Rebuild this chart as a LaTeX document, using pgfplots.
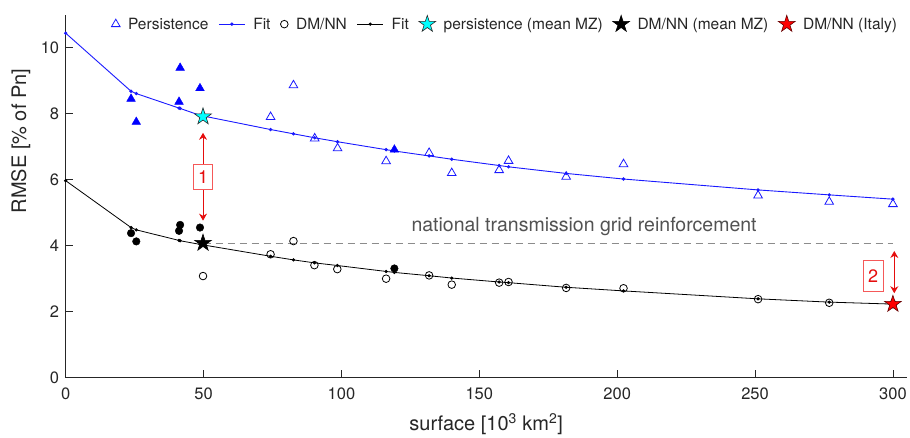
\documentclass[border=0pt]{standalone}
\usepackage{fontspec}
\setmainfont{TeX Gyre Heros}
\usepackage{pgfplots}
\pgfplotsset{compat=1.18}
\usetikzlibrary{arrows.meta}

\definecolor{axisgray}{rgb}{0.15,0.15,0.15}
\definecolor{notegray}{rgb}{0.32,0.32,0.32}
\definecolor{dashgray}{rgb}{0.55,0.55,0.55}
\definecolor{annred}{rgb}{0.90,0.05,0.05}
\definecolor{boxred}{rgb}{0.96,0.35,0.35}
\definecolor{starred}{rgb}{1,0,0}
\definecolor{starcyan}{rgb}{0,1,1}
\definecolor{fitblue}{rgb}{0.1,0.1,1}

\pgfplotsset{fitlegend/.style={legend image code/.code={%
  \draw[mark repeat=2,mark phase=2,##1] plot coordinates {(0pt,0pt) (13pt,0pt) (26pt,0pt)};}}}

% filled five-pointed star
\pgfdeclareplotmark{pstar}{%
  \pgfpathmoveto{\pgfpointpolar{90}{\pgfplotmarksize}}%
  \pgfpathlineto{\pgfpointpolar{126}{0.382\pgfplotmarksize}}%
  \pgfpathlineto{\pgfpointpolar{162}{\pgfplotmarksize}}%
  \pgfpathlineto{\pgfpointpolar{198}{0.382\pgfplotmarksize}}%
  \pgfpathlineto{\pgfpointpolar{234}{\pgfplotmarksize}}%
  \pgfpathlineto{\pgfpointpolar{270}{0.382\pgfplotmarksize}}%
  \pgfpathlineto{\pgfpointpolar{306}{\pgfplotmarksize}}%
  \pgfpathlineto{\pgfpointpolar{342}{0.382\pgfplotmarksize}}%
  \pgfpathlineto{\pgfpointpolar{18}{\pgfplotmarksize}}%
  \pgfpathlineto{\pgfpointpolar{54}{0.382\pgfplotmarksize}}%
  \pgfpathclose
  \pgfusepathqfillstroke
}

\begin{document}
\begin{tikzpicture}
\begin{axis}[
  at={(0,0)}, anchor=south west,
  scale only axis,
  width=841pt, height=363pt,
  xmin=0, xmax=305, ymin=0, ymax=11,
  axis x line=bottom, axis y line=left,
  axis line style={-, draw=axisgray, line width=0.8pt},
  xtick={0,50,...,300}, ytick={0,2,...,10},
  tick align=inside, major tick length=7.5pt,
  tick style={draw=axisgray, line width=0.8pt},
  ticklabel style={font=\fontsize{16.5}{18}\selectfont, text=axisgray},
  xticklabel style={yshift=-7pt},
  yticklabel style={xshift=-3pt},
  /pgf/number format/assume math mode=true,
  xlabel={surface [10\textsuperscript{3} km\textsuperscript{2}]},
  ylabel={RMSE [\% of Pn]},
  every axis x label/.style={at={(axis description cs:0.5,-0.1468)}, anchor=base,
    font=\fontsize{20}{22}\selectfont, text=axisgray},
  every axis y label/.style={at={(axis description cs:-0.0472,0.652)}, rotate=90, anchor=base,
    font=\fontsize{20}{22}\selectfont, text=axisgray},
  legend columns=7,
  legend style={draw=none, fill=none, at={(axis description cs:0.0506,0.9745)}, anchor=west,
    font=\fontsize{15.5}{17}\selectfont, text=axisgray,
    /tikz/every odd column/.append style={column sep=6pt},
    /tikz/every even column/.append style={column sep=8pt}},
]
% Persistence, open markers
\addplot[only marks, mark=triangle, mark size=5pt, draw=fitblue, line width=0.8pt]
  coordinates {(74.3,7.90) (82.6,8.86) (90.3,7.25) (98.6,6.95) (116.2,6.56) (131.8,6.81)
  (140.0,6.20) (157.2,6.29) (160.6,6.57) (181.5,6.09) (202.3,6.47) (251.1,5.52)
  (276.9,5.33) (300,5.26)};
\addlegendentry{Persistence}
\addplot[fitblue, line width=0.9pt, mark=*, mark size=1.2pt, fitlegend]
  coordinates {(0,10.44) (23.7,8.68) (25.6,8.61) (41.1,8.17) (41.5,8.16) (48.7,7.95)
  (74.3,7.52) (82.6,7.39) (90.3,7.27) (98.6,7.15) (116.2,6.91) (119.2,6.87) (131.8,6.72)
  (140.0,6.62) (157.2,6.43) (160.6,6.39) (181.5,6.19) (202.3,6.02) (251.1,5.69)
  (276.9,5.54) (300,5.41)};
\addlegendentry{Fit}
% DM/NN, open markers
\addplot[only marks, mark=o, mark size=3.8pt, draw=black, line width=0.8pt]
  coordinates {(49.8,3.08) (74.3,3.74) (82.6,4.14) (90.2,3.41) (98.5,3.29) (116.2,3.00)
  (131.8,3.10) (140.0,2.82) (157.2,2.88) (160.6,2.90) (181.5,2.72) (202.3,2.71)
  (251.1,2.38) (276.9,2.27) (300,2.23)};
\addlegendentry{DM/NN}
\addplot[black, line width=0.8pt, mark=*, mark size=1.2pt, fitlegend]
  coordinates {(0,5.97) (23.7,4.55) (25.6,4.48) (41.1,4.16) (41.5,4.15) (48.7,4.04)
  (74.3,3.68) (82.6,3.57) (90.2,3.48) (98.5,3.40) (116.2,3.22) (119.2,3.19) (131.8,3.09)
  (140.0,3.02) (157.2,2.90) (160.6,2.88) (181.5,2.74) (202.3,2.63) (251.1,2.39)
  (276.9,2.29) (300,2.23)};
\addlegendentry{Fit}
% filled markers (no legend)
\addplot[only marks, mark=triangle*, mark size=5pt, draw=blue, fill=blue, forget plot]
  coordinates {(23.7,8.45) (25.6,7.75) (41.5,9.39) (41.1,8.36) (48.7,8.77) (119.2,6.91)};
\addplot[only marks, mark=*, mark size=3.8pt, draw=black, fill=black, forget plot]
  coordinates {(23.7,4.38) (25.6,4.13) (41.5,4.63) (41.1,4.45) (48.7,4.55) (119.2,3.31)};
% grid reinforcement level
\addplot[dashgray, line width=1.3pt, dash pattern=on 7pt off 5pt, forget plot]
  coordinates {(50,4.07) (300,4.07)};
% stars
\addplot[only marks, mark=pstar, mark size=8.8pt, draw=axisgray, fill=starcyan, line width=0.6pt]
  coordinates {(49.8,7.91)};
\addlegendentry{persistence (mean MZ)}
\addplot[only marks, mark=pstar, mark size=8.8pt, draw=black, fill=black, line width=0.6pt]
  coordinates {(49.8,4.08)};
\addlegendentry{DM/NN (mean MZ)}
\addplot[only marks, mark=pstar, mark size=8.8pt, draw=black!60!red, fill=starred, line width=0.6pt]
  coordinates {(300,2.23)};
\addlegendentry{DM/NN (Italy)}
% annotations
\node[anchor=base, text=notegray, font=\fontsize{19.5}{21}\selectfont]
  at (axis cs:188,4.43) {national transmission grid reinforcement};
\draw[annred, line width=0.9pt, {Stealth[length=7pt,width=8pt]}-{Stealth[length=7pt,width=8pt]}]
  (axis cs:49.8,4.76) -- (axis cs:49.8,7.42);
\node[draw=boxred, fill=white, text=annred, line width=0.8pt, inner sep=0pt,
  minimum width=19pt, minimum height=25pt, font=\fontsize{18}{20}\selectfont]
  at (axis cs:49.8,6.07) {1};
\draw[annred, line width=0.9pt, {Stealth[length=7pt,width=8pt]}-{Stealth[length=7pt,width=8pt]}]
  (axis cs:300.5,2.56) -- (axis cs:300.5,3.84);
\node[draw=boxred, fill=white, text=annred, line width=0.8pt, inner sep=0pt,
  minimum width=20pt, minimum height=31.5pt, font=\fontsize{18}{20}\selectfont]
  at (axis cs:292.8,3.08) {2};
\end{axis}
\pgfresetboundingbox
\path (-65.7pt,-60.3pt) rectangle (844.3pt,377.7pt);
\end{tikzpicture}
\end{document}
